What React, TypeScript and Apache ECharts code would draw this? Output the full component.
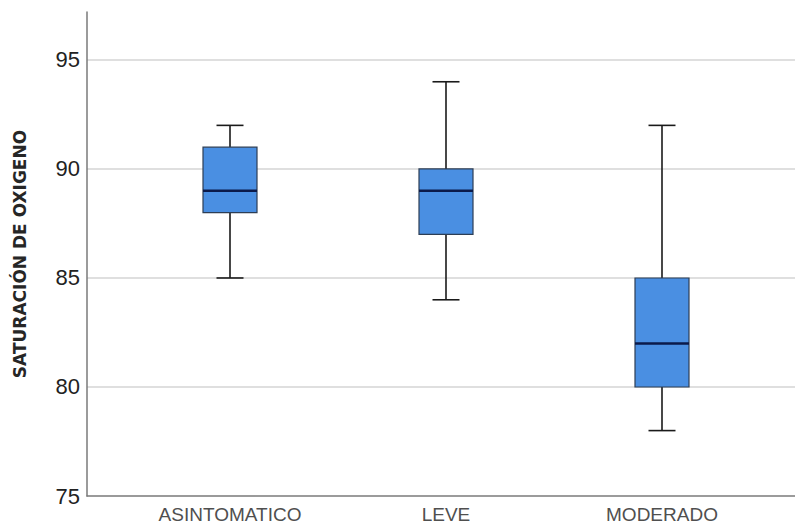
import React, { useEffect, useRef } from "react";
import * as echarts from "echarts";

const categories = ["ASINTOMATICO", "LEVE", "MODERADO"];
const minValues = [85, 84, 78];
const q1Values = [88, 87, 80];
const medianValues = [89, 89, 82];
const q3Values = [91, 90, 85];
const maxValues = [92, 94, 92];
const yTicks = [75, 80, 85, 90, 95];

export default function App() {
  const ref = useRef<HTMLDivElement>(null);
  useEffect(() => {
    if (!ref.current) return;
    const chart = echarts.init(ref.current, undefined, { renderer: "svg" });
    const data = categories.map((_, i) => [i, minValues[i], q1Values[i], medianValues[i], q3Values[i], maxValues[i]]);
    const yMin = 75;
    const yMax = 97.2;
    chart.setOption({
      animation: false,
      backgroundColor: "#ffffff",
      grid: [
        { left: 87, right: 0, top: 12, bottom: 28 },
        { left: 122, right: 25, top: 12, bottom: 28 },
      ],
      xAxis: [
        {
          gridIndex: 0,
          type: "value",
          min: 0,
          max: 1,
          axisLine: { show: true, lineStyle: { color: "#7a7a7a", width: 1.5 } },
          axisTick: { show: false },
          axisLabel: { show: false },
          splitLine: { show: false },
        },
        {
          gridIndex: 1,
          type: "category",
          data: categories,
          axisLine: { show: false },
          axisTick: { show: false },
          axisLabel: {
            color: "#4f4f4f",
            fontSize: 19,
            fontFamily: "Liberation Sans, Arial, sans-serif",
            margin: 9,
          },
          splitLine: { show: false },
        },
      ],
      yAxis: [
        {
          gridIndex: 0,
          type: "value",
          min: yMin,
          max: yMax,
          interval: 5,
          name: "SATURACIÓN DE OXIGENO",
          nameLocation: "middle",
          nameGap: 59,
          nameTextStyle: {
            color: "#262626",
            fontSize: 17,
            fontWeight: "bold",
            fontFamily: "DejaVu Sans, Liberation Sans, sans-serif",
          },
          axisLine: { show: true, lineStyle: { color: "#7a7a7a", width: 1.5 } },
          axisTick: { show: false },
          axisLabel: {
            color: "#222",
            fontSize: 22,
            fontFamily: "Liberation Sans, Arial, sans-serif",
            margin: 7,
            showMaxLabel: false,
            formatter: (v: number) => (yTicks.includes(v) ? String(v) : ""),
          },
          splitLine: {
            show: true,
            showMinLine: false,
            showMaxLine: false,
            lineStyle: { color: "#d4d4d4", width: 1.5 },
          },
        },
        {
          gridIndex: 1,
          type: "value",
          min: yMin,
          max: yMax,
          interval: 5,
          show: false,
          splitLine: { show: false },
        },
      ],
      series: [
        {
          type: "custom",
          xAxisIndex: 1,
          yAxisIndex: 1,
          data,
          renderItem: (params: any, api: any) => {
            const idx = api.value(0);
            const band = api.size([1, 0])[0];
            const boxW = band * 0.25;
            const capW = boxW * 0.5;
            const pMin = api.coord([idx, api.value(1)]);
            const pQ1 = api.coord([idx, api.value(2)]);
            const pMed = api.coord([idx, api.value(3)]);
            const pQ3 = api.coord([idx, api.value(4)]);
            const pMax = api.coord([idx, api.value(5)]);
            const cx = pMed[0];
            const whisker = { stroke: "#1a1a1a", lineWidth: 1.6 };
            return {
              type: "group",
              children: [
                { type: "line", shape: { x1: cx, y1: pMax[1], x2: cx, y2: pQ3[1] }, style: whisker },
                { type: "line", shape: { x1: cx, y1: pQ1[1], x2: cx, y2: pMin[1] }, style: whisker },
                { type: "line", shape: { x1: cx - capW / 2, y1: pMax[1], x2: cx + capW / 2, y2: pMax[1] }, style: whisker },
                { type: "line", shape: { x1: cx - capW / 2, y1: pMin[1], x2: cx + capW / 2, y2: pMin[1] }, style: whisker },
                {
                  type: "rect",
                  shape: { x: cx - boxW / 2, y: pQ3[1], width: boxW, height: pQ1[1] - pQ3[1] },
                  style: { fill: "#4a8fe2", stroke: "#2d3e55", lineWidth: 1.2 },
                },
                {
                  type: "line",
                  shape: { x1: cx - boxW / 2, y1: pMed[1], x2: cx + boxW / 2, y2: pMed[1] },
                  style: { stroke: "#0b1a4a", lineWidth: 2.5 },
                },
              ],
            };
          },
        },
      ],
    });
    return () => chart.dispose();
  }, []);
  return <div ref={ref} style={{ width: 795, height: 524, position: "absolute", left: 0, top: 0 }} />;
}
